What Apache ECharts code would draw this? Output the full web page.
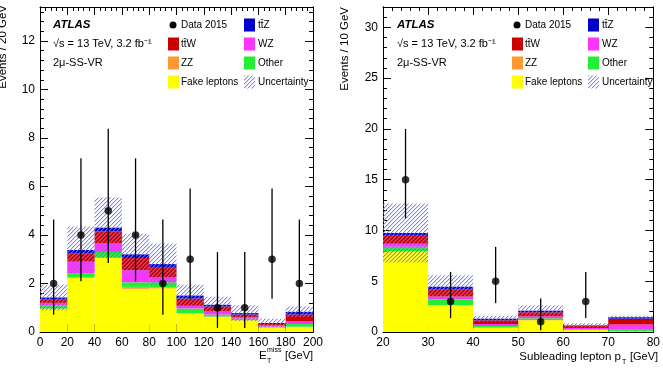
<!DOCTYPE html>
<html><head><meta charset="utf-8">
<script src="https://cdn.jsdelivr.net/npm/echarts@6/dist/echarts.min.js"></script>
<style>html,body{margin:0;padding:0;background:#fff}#c{width:663px;height:368px}</style>
</head><body><div id="c"></div>
<script>
// ---------- shared sample definitions (stack order bottom -> top) ----------
const sampleNames = ['Fake leptons', 'ZZ', 'Other', 'WZ', 'tt\u0304W', 'tt\u0304Z'];
const sampleColors = ['#ffff00', '#ff9933', '#22ee33', '#ff33ff', '#cc0000', '#0000cc'];

// ---------- left panel: E_T^miss, 20 GeV bins ----------
const metEdges = [0, 20, 40, 60, 80, 100, 120, 140, 160, 180, 200];
const metFake  = [0.95, 2.23, 3.05, 1.78, 1.80, 0.76, 0.62, 0.48, 0.18, 0.20];
const metZZ    = [0.02, 0.02, 0.03, 0.08, 0.05, 0.02, 0.02, 0.01, 0.01, 0.02];
const metOther = [0.13, 0.17, 0.22, 0.19, 0.20, 0.19, 0.08, 0.06, 0.03, 0.11];
const metWZ    = [0.10, 0.48, 0.35, 0.50, 0.20, 0.11, 0.13, 0.07, 0.05, 0.12];
const metTTW   = [0.15, 0.35, 0.50, 0.50, 0.40, 0.30, 0.20, 0.10, 0.06, 0.27];
const metTTZ   = [0.07, 0.13, 0.15, 0.15, 0.15, 0.12, 0.07, 0.06, 0.04, 0.11];
const metUnc   = [0.53, 0.97, 1.25, 0.85, 0.85, 0.45, 0.33, 0.32, 0.18, 0.22];
const metData   = [2, 4, 5, 4, 2, 3, 1, 1, 3, 2];
const metDataLo = [0.71, 2.09, 2.84, 2.09, 0.71, 1.37, 0.17, 0.17, 1.37, 0.71];
const metDataHi = [4.64, 7.16, 8.38, 7.16, 4.64, 5.92, 3.30, 3.30, 5.92, 4.64];
const metXTicks = {min: 0, max: 200, interval: 20};
const metYTicks = {min: 0, max: 13.4, interval: 2, minor: 0.4};

// ---------- right panel: subleading lepton pT, 10 GeV bins ----------
const ptEdges = [20, 30, 40, 50, 60, 70, 80];
const ptFake  = [7.90, 2.63, 0.43, 1.15, 0.20, 0.05];
const ptZZ    = [0.05, 0.03, 0.02, 0.02, 0.01, 0.02];
const ptOther = [0.45, 0.54, 0.15, 0.18, 0.09, 0.23];
const ptWZ    = [0.30, 0.30, 0.20, 0.20, 0.10, 0.45];
const ptTTW   = [0.85, 0.70, 0.35, 0.40, 0.20, 0.55];
const ptTTZ   = [0.20, 0.25, 0.15, 0.15, 0.05, 0.15];
const ptUnc   = [2.90, 1.15, 0.30, 0.50, 0.20, 0.15];
const ptData   = [15, 3, 5, 1, 3, null];
const ptDataLo = [11.2, 1.37, 2.84, 0.17, 1.37, null];
const ptDataHi = [20.0, 5.92, 8.38, 3.30, 5.92, null];
const ptXTicks = {min: 20, max: 80, interval: 10};
const ptYTicks = {min: 0, max: 32, interval: 5, minor: 1};

// ---------- helpers ----------
const FONT = '"Liberation Sans", Arial, Helvetica, sans-serif';

function makeHatch() {
  const c = document.createElement('canvas');
  c.width = 4; c.height = 4;
  const g = c.getContext('2d');
  for (let i = 0; i < 4; i++) {
    g.fillStyle = 'rgba(110,110,238,0.85)';
    g.fillRect(i, 3 - i, 1, 1);
    g.fillStyle = 'rgba(150,150,245,0.35)';
    g.fillRect(i, (4 - i) % 4, 1, 1);
  }
  return c;
}
const hatchCanvas = makeHatch();
const hatchFill = () => ({image: hatchCanvas, repeat: 'repeat'});

function rectRender(fill) {
  return function (params, api) {
    const p0 = api.coord([api.value(0), api.value(3)]);
    const p1 = api.coord([api.value(1), api.value(2)]);
    return {type: 'rect', shape: {x: p0[0], y: p0[1], width: p1[0] - p0[0], height: p1[1] - p0[1]},
            style: {fill: typeof fill === 'function' ? fill() : fill}};
  };
}

function panelSeries(edges, comps, unc, data, lo, hi, xi, yi) {
  const out = [];
  const cum = edges.slice(0, -1).map(() => 0);
  comps.forEach((vals, k) => {
    const d = vals.map((v, i) => { const r = [edges[i], edges[i + 1], cum[i], cum[i] + v]; cum[i] += v; return r; });
    out.push({type: 'custom', name: sampleNames[k], xAxisIndex: xi, yAxisIndex: yi, data: d,
      encode: {x: [0, 1], y: [2, 3]}, renderItem: rectRender(sampleColors[k]), z: 2, silent: true});
  });
  const ud = unc.map((s, i) => [edges[i], edges[i + 1], cum[i] - s, cum[i] + s]);
  out.push({type: 'custom', name: 'Uncertainty', xAxisIndex: xi, yAxisIndex: yi, data: ud,
    encode: {x: [0, 1], y: [2, 3]}, renderItem: rectRender(hatchFill), z: 3, silent: true});
  const centers = edges.slice(0, -1).map((e, i) => (e + edges[i + 1]) / 2);
  const eb = [], pts = [];
  data.forEach((v, i) => {
    if (v === null) return;
    eb.push([centers[i], lo[i], hi[i]]);
    pts.push([centers[i], v]);
  });
  out.push({type: 'custom', xAxisIndex: xi, yAxisIndex: yi, data: eb, encode: {x: 0, y: [1, 2]}, z: 4, silent: true,
    renderItem: function (params, api) {
      const a = api.coord([api.value(0), api.value(1)]);
      const b = api.coord([api.value(0), api.value(2)]);
      return {type: 'line', shape: {x1: a[0], y1: a[1], x2: b[0], y2: b[1]}, style: {stroke: '#000', lineWidth: 1.3}};
    }});
  out.push({type: 'scatter', xAxisIndex: xi, yAxisIndex: yi, data: pts, symbol: 'circle', symbolSize: 7.5,
    itemStyle: {color: '#000'}, z: 5, silent: true});
  return out;
}

function xAx(grid, t, pos, labels) {
  return {type: 'value', gridIndex: grid, min: t.min, max: t.max, interval: t.interval, position: pos,
    axisLine: {show: true, onZero: false, lineStyle: {color: '#000', width: 1}},
    axisTick: {show: true, inside: true, length: 8, lineStyle: {color: '#000', width: 1}},
    minorTick: {show: true, splitNumber: 5, length: 4, lineStyle: {color: '#000', width: 1}},
    axisLabel: {show: labels, color: '#000', fontSize: 12, margin: 5, fontFamily: FONT},
    splitLine: {show: false}, minorSplitLine: {show: false}};
}
function yAx(grid, t, pos, major, labels) {
  return {type: 'value', gridIndex: grid, min: t.min, max: t.max, interval: major ? t.interval : t.minor, position: pos,
    axisLine: {show: true, onZero: false, lineStyle: {color: '#000', width: 1}},
    axisTick: {show: true, inside: true, length: major ? 8 : 4, lineStyle: {color: '#000', width: 1}},
    axisLabel: {show: labels, color: '#000', fontSize: 12, margin: 5, fontFamily: FONT, showMaxLabel: false},
    splitLine: {show: false}};
}

function txt(x, y, text, size, opts) {
  opts = opts || {};
  return {type: 'text', x: x, y: y, rotation: opts.rotation || 0, silent: true,
    style: {text: text, fill: '#000', align: opts.align || 'left', verticalAlign: 'middle',
      font: (opts.weight || '') + ' ' + size + 'px ' + FONT}};
}

function legendGraphics(ox) {
  const g = [];
  const rows = [25, 44, 63, 82];
  g.push(txt(53 + ox, rows[0], 'ATLAS', 11.5, {weight: 'italic bold'}));
  g.push(txt(53 + ox, rows[1], '\u221As = 13 TeV, 3.2 fb\u207B\u00B9', 11));
  g.push(txt(53 + ox, rows[2], '2\u03BC-SS-VR', 11));
  const box = (x, y, fill) => ({type: 'rect', silent: true, shape: {x: x, y: y - 6.5, width: 11, height: 13}, style: {fill: fill}});
  // col1
  g.push({type: 'circle', silent: true, shape: {cx: 173 + ox, cy: rows[0], r: 3.5}, style: {fill: '#000'}});
  g.push(txt(181 + ox, rows[0], 'Data 2015', 10));
  g.push(box(168 + ox, rows[1], sampleColors[4])); g.push(txt(181 + ox, rows[1], sampleNames[4], 10));
  g.push(box(168 + ox, rows[2], sampleColors[1])); g.push(txt(181 + ox, rows[2], sampleNames[1], 10));
  g.push(box(168 + ox, rows[3], sampleColors[0])); g.push(txt(181 + ox, rows[3], sampleNames[0], 10));
  // col2
  g.push(box(244 + ox, rows[0], sampleColors[5])); g.push(txt(258 + ox, rows[0], sampleNames[5], 10));
  g.push(box(244 + ox, rows[1], sampleColors[3])); g.push(txt(258 + ox, rows[1], sampleNames[3], 10));
  g.push(box(244 + ox, rows[2], sampleColors[2])); g.push(txt(258 + ox, rows[2], sampleNames[2], 10));
  g.push(box(244 + ox, rows[3], hatchFill())); g.push(txt(258 + ox, rows[3], 'Uncertainty', 10));
  return g;
}

const graphics = [].concat(
  legendGraphics(0), legendGraphics(344),
  [
    txt(3, 5, 'Events / 20 GeV', 11.5, {rotation: Math.PI / 2, align: 'right'}),
    txt(345, 7, 'Events / 10 GeV', 11.5, {rotation: Math.PI / 2, align: 'right'}),
    txt(259, 356, 'E', 11.5),
    txt(267, 350, 'miss', 7),
    txt(267, 361, 'T', 7),
    txt(285, 356, '[GeV]', 11),
    txt(621, 357, 'Subleading lepton p', 11.5, {align: 'right'}),
    txt(622, 362, 'T', 7),
    txt(630, 357, '[GeV]', 11)
  ]
);

const chart = echarts.init(document.getElementById('c'), null, {renderer: 'canvas'});
chart.setOption({
  animation: false,
  backgroundColor: '#fff',
  grid: [
    {left: 40, right: 350, top: 7, bottom: 36},
    {left: 383, right: 7, top: 7, bottom: 36}
  ],
  xAxis: [
    xAx(0, metXTicks, 'bottom', true), xAx(0, metXTicks, 'top', false),
    xAx(1, ptXTicks, 'bottom', true), xAx(1, ptXTicks, 'top', false)
  ],
  yAxis: [
    yAx(0, metYTicks, 'left', true, true), yAx(0, metYTicks, 'left', false, false),
    yAx(0, metYTicks, 'right', true, false), yAx(0, metYTicks, 'right', false, false),
    yAx(1, ptYTicks, 'left', true, true), yAx(1, ptYTicks, 'left', false, false),
    yAx(1, ptYTicks, 'right', true, false), yAx(1, ptYTicks, 'right', false, false)
  ],
  series: [].concat(
    panelSeries(metEdges, [metFake, metZZ, metOther, metWZ, metTTW, metTTZ], metUnc, metData, metDataLo, metDataHi, 0, 0),
    panelSeries(ptEdges, [ptFake, ptZZ, ptOther, ptWZ, ptTTW, ptTTZ], ptUnc, ptData, ptDataLo, ptDataHi, 2, 4)
  ),
  graphic: graphics
});
</script>
</body></html>
